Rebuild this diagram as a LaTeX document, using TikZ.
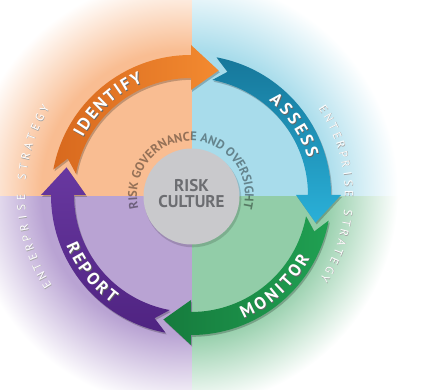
\documentclass[tikz,border=0pt]{standalone}
\usepackage{fontspec}
\setmainfont{PT Sans}
\usetikzlibrary{decorations.text}

\definecolor{peachbg}{HTML}{F9BD92}
\definecolor{bluebg}{HTML}{A8DCEB}
\definecolor{lilacbg}{HTML}{B9A3D3}
\definecolor{mintbg}{HTML}{92CDA8}
\definecolor{orangeA}{HTML}{D8691E}
\definecolor{orangeB}{HTML}{F38A30}
\definecolor{blueA}{HTML}{16779A}
\definecolor{blueB}{HTML}{2AB0D8}
\definecolor{greenA}{HTML}{167B3D}
\definecolor{greenB}{HTML}{20A052}
\definecolor{purpleA}{HTML}{4F2381}
\definecolor{purpleB}{HTML}{6838A0}
\definecolor{culturegray}{HTML}{C9C9CC}
\definecolor{culturetext}{HTML}{6C6D71}

% quadrant colour, solid in the middle, white at the rim
\pgfdeclareradialshading[halocol]{halo}{\pgfpointorigin}{%
  color(0bp)=(halocol); color(16.5bp)=(halocol); color(25bp)=(white); color(50bp)=(white)}

\begin{document}
\begin{tikzpicture}[x=1pt, y=1pt,
    ringarrow/.style={insert path={
        (#1+79.5:140) arc[start angle=#1+79.5, end angle=#1, radius=140]
        -- (#1:150) -- (#1-12.5:127.5) -- (#1:105) -- (#1:117)
        arc[start angle=#1, end angle=#1+79.5, radius=117]
        -- (#1+73.5:128.5) -- cycle}},
    arrowshadow/.style={shift={(1.2,-1.8)}, fill=black, fill opacity=0.22},
    steplabel/.style={decorate, decoration={text along path, text align={fit to path},
        text color=white, text={|\bfseries\fontsize{17}{17}\selectfont|#1}}},
    steplabelshadow/.style={shift={(0.8,-0.8)}, steplabel=#1,
        decoration={text color=black!60}},
    strategy/.style={font=\fontsize{11.5}{11.5}\selectfont, text=white, inner sep=0pt},
    strategyshadow/.style={strategy, text=black!35, xshift=0.5pt, yshift=-0.5pt}
]
\useasboundingbox (-191,-195) rectangle (234,195);

% coloured quadrants
\foreach \col/\sx/\sy in {peachbg/-1/1, bluebg/1/1, lilacbg/-1/-1, mintbg/1/-1} {
    \colorlet{halocol}{\col}
    \begin{scope}
        \clip (1,-2) rectangle ++(240*\sx, 240*\sy);
        \shade[shading=halo] (-8,3) circle (215);
    \end{scope}
}

% outer ring text
\foreach \ch [count=\i from 0] in {E,N,T,E,R,P,R,I,S,E,{},S,T,R,A,T,E,G,Y} {
    \node[strategyshadow, rotate=122-\i*3.47] (stratLs\i) at (212-\i*3.47:170) {\ch};
    \node[strategy, rotate=122-\i*3.47] (stratL\i) at (212-\i*3.47:170) {\ch};
    \node[strategyshadow, rotate=-57-\i*3.61] (stratRs\i) at (33-\i*3.61:158) {\ch};
    \node[strategy, rotate=-57-\i*3.61] (stratR\i) at (33-\i*3.61:158) {\ch};
}

% the four cycle arrows
\fill[arrowshadow, ringarrow=90];
\fill[arrowshadow, ringarrow=0];
\fill[arrowshadow, ringarrow=-90];
\fill[arrowshadow, ringarrow=-180];
\shade[left color=orangeA, right color=orangeB, ringarrow=90];
\shade[top color=blueA, bottom color=blueB, ringarrow=0];
\shade[left color=greenA, right color=greenB, ringarrow=-90];
\shade[bottom color=purpleA, top color=purpleB, ringarrow=-180];

\path[steplabelshadow=IDENTIFY] (152:122.5) arc[start angle=152, end angle=113, radius=122.5];
\path[steplabel=IDENTIFY] (152:122.5) arc[start angle=152, end angle=113, radius=122.5];
\path[steplabelshadow=ASSESS] (50.5:122.5) arc[start angle=50.5, end angle=17.5, radius=122.5];
\path[steplabel=ASSESS] (50.5:122.5) arc[start angle=50.5, end angle=17.5, radius=122.5];
\path[steplabelshadow=MONITOR] (-67:134.5) arc[start angle=-67, end angle=-28, radius=134.5];
\path[steplabel=MONITOR] (-67:134.5) arc[start angle=-67, end angle=-28, radius=134.5];
\path[steplabelshadow=REPORT] (202:134.5) arc[start angle=202, end angle=234, radius=134.5];
\path[steplabel=REPORT] (202:134.5) arc[start angle=202, end angle=234, radius=134.5];

% governance ring and culture core
\begin{scope}[opacity=0.4]
\path[decorate, decoration={text along path, text align={fit to path}, text color=black,
    text={|\bfseries\fontsize{12.5}{12.5}\selectfont|RISK GOVERNANCE AND OVERSIGHT}}]
    (194:54) arc[start angle=194, end angle=-14, radius=54];
\end{scope}

\fill[black, fill opacity=0.15] (1.8,-3.8) circle (48.5);
\node[circle, fill=culturegray, minimum size=96pt, inner sep=0pt] (culture) at (0.5,-1.5) {};
\node[font=\bfseries\fontsize{17}{16}\selectfont, text=culturetext, align=center]
    (culturelabel) at (0.5,1.5) {RISK\\CULTURE};

\end{tikzpicture}
\end{document}
